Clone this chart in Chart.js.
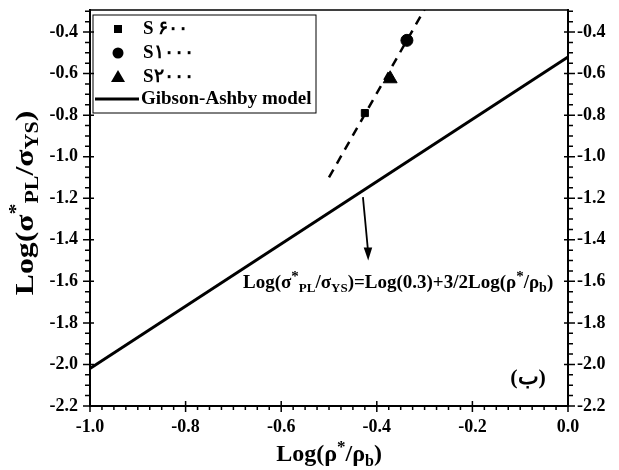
<!DOCTYPE html>
<html lang="en">
<head>
  <meta charset="UTF-8" />
  <title>Gibson-Ashby plot</title>
  <script src="https://cdn.jsdelivr.net/npm/chart.js"></script>
  <style>
    body {
      margin: 0;
      background: #fff;
    }
    #wrap {
      width: 619px;
      height: 470px;
    }
  </style>
</head>
<body>
  <div id="wrap"><canvas id="plot"></canvas></div>

  <script>
    // values
    const seriesNames = ['S \u06F6\u06F0\u06F0', 'S\u06F1\u06F0\u06F0\u06F0', 'S\u06F2\u06F0\u06F0\u06F0'];
    const s600 = [{ x: -0.425, y: -0.79 }];
    const s1000 = [{ x: -0.337, y: -0.44 }];
    const s2000 = [{ x: -0.372, y: -0.625 }];
    const gibsonAshby = [{ x: -1.0, y: -2.02 }, { x: 0.0, y: -0.52 }];
    const fitLine = [{ x: -0.50, y: -1.10 }, { x: -0.30, y: -0.29 }];
    const xTicks = [-1.0, -0.8, -0.6, -0.4, -0.2, 0.0];
    const yTicks = [-2.2, -2.0, -1.8, -1.6, -1.4, -1.2, -1.0, -0.8, -0.6, -0.4];

    const FONT = 'Liberation Serif';

    function setTicks(list) {
      return scale => { scale.ticks = list.map(v => ({ value: v })); };
    }

    // draw text with super/subscripts, parts = [text, size, dy]
    function richText(ctx, parts, x, y, align) {
      let total = 0;
      parts.forEach(p => {
        ctx.font = 'bold ' + p[1] + 'px "' + FONT + '"';
        total += ctx.measureText(p[0]).width;
      });
      let cx = align === 'center' ? x - total / 2 : x;
      ctx.textAlign = 'left';
      ctx.textBaseline = 'alphabetic';
      parts.forEach(p => {
        ctx.font = 'bold ' + p[1] + 'px "' + FONT + '"';
        ctx.fillText(p[0], cx, y + p[2]);
        cx += ctx.measureText(p[0]).width;
      });
    }

    const decorations = {
      id: 'decorations',
      afterDraw(chart) {
        const ctx = chart.ctx;
        const a = chart.chartArea;
        const xs = chart.scales.x;
        const ys = chart.scales.y;
        ctx.save();
        ctx.strokeStyle = '#000';
        ctx.fillStyle = '#000';

        // frame
        ctx.lineWidth = 1.5;
        ctx.strokeRect(a.left, a.top, a.right - a.left, a.bottom - a.top);

        // ticks, major and minor
        ctx.lineWidth = 1.5;
        ctx.beginPath();
        for (let i = 0; i <= 40; i++) {
          const v = -1 + i * 0.025;
          const px = xs.getPixelForValue(v);
          const major = i % 8 === 0;
          ctx.moveTo(px, a.bottom - (major ? 5 : 0));
          ctx.lineTo(px, a.bottom + (major ? 6 : 4));
        }
        for (let i = 0; i <= 38; i++) {
          const v = -2.2 + i * 0.05;
          if (v > -0.29) break;
          const py = ys.getPixelForValue(v);
          const major = i % 4 === 0;
          ctx.moveTo(a.left - (major ? 7 : 5), py);
          ctx.lineTo(a.left + (major ? 4 : 0), py);
          ctx.moveTo(a.right - (major ? 4 : 0), py);
          ctx.lineTo(a.right + (major ? 7 : 5), py);
        }
        ctx.stroke();

        // legend
        const lx = a.left + 3, ly = a.top + 5;
        ctx.lineWidth = 1;
        ctx.strokeRect(lx, ly, 223, 98);
        ctx.fillRect(lx + 21, ly + 10, 8, 8);
        ctx.beginPath();
        ctx.arc(lx + 25, ly + 38, 5.5, 0, Math.PI * 2);
        ctx.fill();
        ctx.beginPath();
        ctx.moveTo(lx + 25, ly + 55);
        ctx.lineTo(lx + 32, ly + 67);
        ctx.lineTo(lx + 18, ly + 67);
        ctx.closePath();
        ctx.fill();
        ctx.lineWidth = 3;
        ctx.beginPath();
        ctx.moveTo(lx + 2, ly + 84);
        ctx.lineTo(lx + 46, ly + 84);
        ctx.stroke();
        ctx.font = 'bold 19px "' + FONT + '"';
        ctx.textAlign = 'left';
        ctx.textBaseline = 'middle';
        ctx.fillText(seriesNames[0], lx + 50, ly + 14);
        ctx.fillText(seriesNames[1], lx + 50, ly + 38);
        ctx.fillText(seriesNames[2], lx + 50, ly + 62);
        ctx.fillText('Gibson-Ashby model', lx + 48, ly + 84);

        // arrow to the model line
        const x0 = xs.getPixelForValue(-0.429), y0 = ys.getPixelForValue(-1.195);
        const x1 = xs.getPixelForValue(-0.418), y1 = ys.getPixelForValue(-1.50);
        ctx.lineWidth = 1.8;
        ctx.beginPath();
        ctx.moveTo(x0, y0);
        ctx.lineTo(x1, y1 - 8);
        ctx.stroke();
        ctx.beginPath();
        ctx.moveTo(x1, y1);
        ctx.lineTo(x1 - 4.5, y1 - 13);
        ctx.lineTo(x1 + 4, y1 - 13);
        ctx.closePath();
        ctx.fill();

        // equation
        richText(ctx, [
          ['Log(\u03C3', 19, 0], ['*', 15, -7], ['PL', 13, 4], ['/\u03C3', 19, 0], ['YS', 13, 4],
          [')=Log(0.3)+3/2Log(\u03C1', 19, 0], ['*', 15, -7], ['/\u03C1', 19, 0], ['b', 14, 4], [')', 19, 0]
        ], xs.getPixelForValue(-0.68), ys.getPixelForValue(-1.63), 'left');

        // panel label
        ctx.font = 'bold 22px "' + FONT + '"';
        ctx.textAlign = 'center';
        ctx.textBaseline = 'middle';
        ctx.fillText('(\u0628)', a.right - 40, a.bottom - 28);

        // axis titles
        richText(ctx, [['Log(\u03C1', 24, 0], ['*', 17, -9], ['/\u03C1', 24, 0], ['b', 16, 5], [')', 24, 0]],
          (a.left + a.right) / 2, 461, 'center');

        ctx.translate(33, 203);
        ctx.rotate(-Math.PI / 2);
        ctx.scale(1.22, 1);
        richText(ctx, [['Log(\u03C3', 26, 0], ['*', 18, -11], ['PL', 18, 5], ['/\u03C3', 26, 0], ['YS', 18, 5], [')', 26, 0]],
          0, 0, 'center');
        ctx.restore();
      }
    };

    const tickFont = { family: FONT, size: 18, weight: 'bold' };

    function noPad(w) {
      return s => { s.width = w; s.paddingTop = 0; s.paddingBottom = 0; };
    }

    new Chart(document.getElementById('plot'), {
      type: 'scatter',
      data: {
        datasets: [
          { label: seriesNames[0], data: s600, pointStyle: 'rect', pointRadius: 5, backgroundColor: '#000', borderColor: '#000' },
          { label: seriesNames[1], data: s1000, pointStyle: 'circle', pointRadius: 6, backgroundColor: '#000', borderColor: '#000' },
          { label: seriesNames[2], data: s2000, pointStyle: 'triangle', pointRadius: 8, backgroundColor: '#000', borderColor: '#000' },
          { label: 'Gibson-Ashby model', data: gibsonAshby, showLine: true, pointRadius: 0, borderColor: '#000', borderWidth: 3 },
          { label: 'fit', data: fitLine, showLine: true, pointRadius: 0, borderColor: '#000', borderWidth: 2.5, borderDash: [9, 7] }
        ]
      },
      options: {
        responsive: true,
        maintainAspectRatio: false,
        animation: false,
        layout: { padding: { top: 10, left: 0, right: 0, bottom: 0 } },
        plugins: { legend: { display: false }, tooltip: { enabled: false } },
        scales: {
          x: {
            type: 'linear', min: -1, max: 0, position: 'bottom',
            grid: { display: false, drawTicks: false },
            border: { display: true, color: '#000', width: 2 },
            afterBuildTicks: setTicks(xTicks),
            afterFit: s => { s.height = 64; s.paddingLeft = 0; s.paddingRight = 0; },
            ticks: { font: tickFont, color: '#000', padding: 11, maxRotation: 0, callback: v => v.toFixed(1) }
          },
          y: {
            type: 'linear', min: -2.2, max: -0.294, position: 'left',
            grid: { display: false, drawTicks: false },
            border: { display: true, color: '#000', width: 2 },
            afterBuildTicks: setTicks(yTicks),
            afterFit: noPad(90),
            ticks: { font: tickFont, color: '#000', padding: 12, callback: v => v.toFixed(1) }
          },
          y2: {
            type: 'linear', min: -2.2, max: -0.294, position: 'right',
            grid: { display: false, drawTicks: false },
            border: { display: true, color: '#000', width: 2 },
            afterBuildTicks: setTicks(yTicks),
            afterFit: noPad(51),
            ticks: { font: tickFont, color: '#000', padding: 9, callback: v => v.toFixed(1) }
          }
        }
      },
      plugins: [decorations]
    });
  </script>
</body>
</html>
